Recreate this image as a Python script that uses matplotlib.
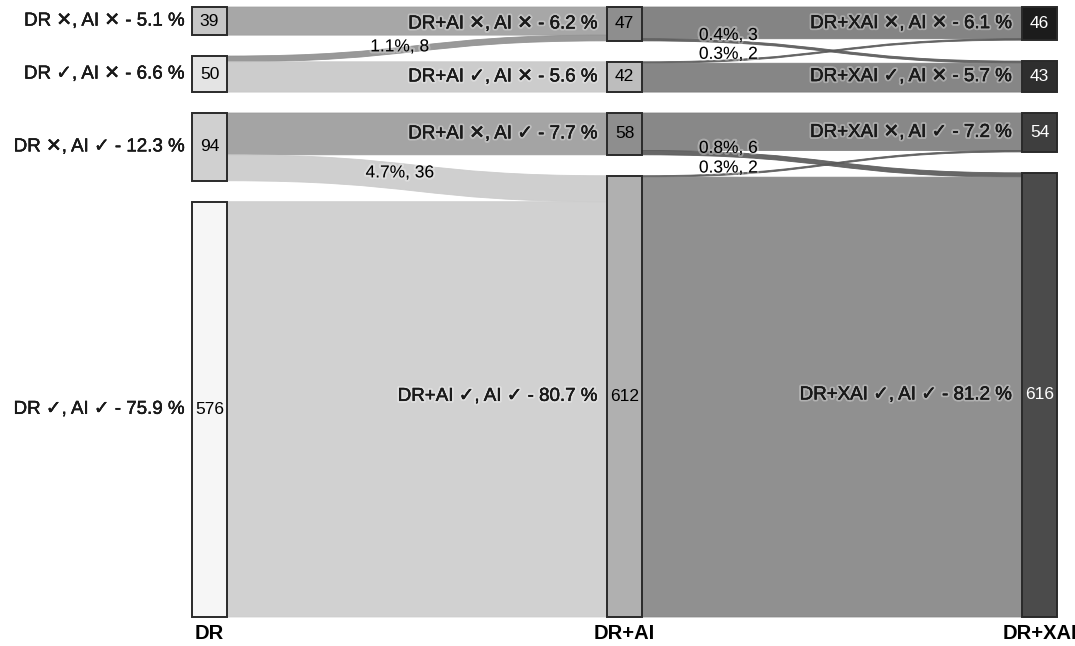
"""
Sankey: DR -> DR+AI -> DR+XAI 的判读结果流向图
"""
import matplotlib
matplotlib.use("Agg")
import matplotlib.pyplot as plt
import matplotlib.patheffects as pe
from matplotlib.path import Path
from matplotlib.patches import PathPatch, Rectangle

plt.rcParams["font.family"] = ["Liberation Sans", "DejaVu Sans"]

# ---------------------------------------------------------------------------
# 数据
# ---------------------------------------------------------------------------
stages = ["DR", "DR+AI", "DR+XAI"]
outcomes = ["✕, AI ✕", "✓, AI ✕", "✕, AI ✓", "✓, AI ✓"]

# 各列节点的百分比（按图中标注）
pct_dr = [5.1, 6.6, 12.3, 75.9]
pct_ai = [6.2, 5.6, 7.7, 80.7]
pct_xai = [6.1, 5.7, 7.2, 81.2]

# (源节点序号, 目标节点序号, 人数)
links_dr_to_ai = [(0, 0, 39), (1, 0, 8), (1, 1, 42), (2, 2, 58), (2, 3, 36), (3, 3, 576)]
links_ai_to_xai = [(0, 0, 44), (0, 1, 3), (1, 0, 2), (1, 1, 40),
                   (2, 2, 52), (2, 3, 6), (3, 2, 2), (3, 3, 610)]
# 跨类别流量的百分比标注（与上面顺序对应，None 表示不标注）
link_pct_dr_to_ai = [None, 1.1, None, None, 4.7, None]
link_pct_ai_to_xai = [None, 0.4, 0.3, None, None, 0.8, 0.3, None]

# ---------------------------------------------------------------------------
# 样式
# ---------------------------------------------------------------------------
node_colors = [["#c6c6c6", "#e4e4e4", "#d0d0d0", "#f6f6f6"],
               ["#8e8e8e", "#bdbdbd", "#8e8e8e", "#b0b0b0"],
               ["#1c1c1c", "#2e2e2e", "#3e3e3e", "#4b4b4b"]]
value_colors = ["black", "black", "white"]
link_colors = [["#a0a0a0", "#909090", "#c8c8c8", "#9c9c9c", "#cbcbcb", "#cdcdcd"],
               ["#7a7a7a", "#5a5a5a", "#5a5a5a", "#7c7c7c",
                "#7e7e7e", "#5a5a5a", "#5a5a5a", "#878787"]]
link_label_t = [0.44, 0.18]
link_label_dy = [2.5, 4.5]
label_gap = [5, 6.5, 7]

gap = 29          # 节点之间的间距（人数单位）
node_w = 35 / 415  # 节点宽度（列间距为 1）

halo = [pe.withStroke(linewidth=3, foreground="white", alpha=0.3)]
label_fx = [pe.withStroke(linewidth=3, foreground="white", alpha=0.3),
            pe.withStroke(linewidth=0.25, foreground="#1a1a1a")]


def node_values():
    """根据流量求每列节点的人数。"""
    vals = [[0] * 4 for _ in range(3)]
    for s, t, v in links_dr_to_ai:
        vals[0][s] += v
        vals[1][t] += v
    for s, t, v in links_ai_to_xai:
        vals[2][t] += v
    return vals


def ribbon(ax, x0, x1, s0, s1, t0, t1, color):
    """画一条贝塞尔曲线带。"""
    xm = (x0 + x1) / 2
    verts = [(x0, s0), (xm, s0), (xm, t0), (x1, t0),
             (x1, t1), (xm, t1), (xm, s1), (x0, s1), (x0, s0)]
    codes = [Path.MOVETO, Path.CURVE4, Path.CURVE4, Path.CURVE4,
             Path.LINETO, Path.CURVE4, Path.CURVE4, Path.CURVE4, Path.CLOSEPOLY]
    ax.add_patch(PathPatch(Path(verts, codes), facecolor=color, edgecolor=color,
                           lw=0.6, alpha=0.92, zorder=1))


def bezier_point(x0, x1, ys, yt, t):
    xm = (x0 + x1) / 2
    u = 1 - t
    x = u**3 * x0 + 3 * u**2 * t * xm + 3 * u * t**2 * xm + t**3 * x1
    y = u**3 * ys + 3 * u**2 * t * ys + 3 * u * t**2 * yt + t**3 * yt
    return x, y


def main():
    vals = node_values()
    pcts = [pct_dr, pct_ai, pct_xai]
    total = sum(vals[0])

    fig = plt.figure(figsize=(10.75, 6.46), dpi=100)
    ax = fig.add_axes([0, 0, 1, 1])
    span = total + 3 * gap
    k = 610 / span
    ax.set_xlim(-192 / 415, (1075 - 192) / 415)
    ax.set_ylim((646 - 7) / k, -7 / k)
    ax.axis("off")

    # 节点位置
    tops = []
    for c in range(3):
        y = 0
        col = []
        for v in vals[c]:
            col.append(y)
            y += v + gap
        tops.append(col)

    # 流量
    all_links = [links_dr_to_ai, links_ai_to_xai]
    all_pcts = [link_pct_dr_to_ai, link_pct_ai_to_xai]
    for p, links in enumerate(all_links):
        out_off = [0] * 4
        in_off = [0] * 4
        # 目标端按源节点顺序叠放
        in_pos = {}
        for s, t, v in sorted(links, key=lambda l: (l[1], l[0])):
            in_pos[(s, t)] = tops[p + 1][t] + in_off[t]
            in_off[t] += v
        x0 = p + node_w
        x1 = p + 1
        for i, (s, t, v) in enumerate(links):
            s0 = tops[p][s] + out_off[s]
            out_off[s] += v
            t0 = in_pos[(s, t)]
            ribbon(ax, x0, x1, s0, s0 + v, t0, t0 + v, link_colors[p][i])
            if all_pcts[p][i] is not None:
                lx, ly = bezier_point(x0, x1, s0 + v / 2, t0 + v / 2, link_label_t[p])
                ax.annotate(f"{all_pcts[p][i]:.1f}%, {v}", (lx, ly),
                            xytext=(0, link_label_dy[p]), textcoords="offset points",
                            ha="center", va="center", fontsize=12.5, color="black",
                            path_effects=halo, zorder=5)

    # 节点与标签
    for c in range(3):
        for i, v in enumerate(vals[c]):
            y0 = tops[c][i]
            ax.add_patch(Rectangle((c, y0), node_w, v, facecolor=node_colors[c][i],
                                   edgecolor="#2a2a2a", lw=1.4, zorder=3))
            ax.text(c + node_w / 2, y0 + v / 2, str(v), ha="center", va="center",
                    fontsize=12.5, color=value_colors[c], zorder=4)
            ax.annotate(f"{stages[c]} {outcomes[i]} - {pcts[c][i]:.1f} %",
                        (c, y0 + v / 2), xytext=(-label_gap[c], 0),
                        textcoords="offset points", ha="right", va="center",
                        fontsize=13.5, color="#1a1a1a", path_effects=label_fx,
                        zorder=5)
        ax.annotate(stages[c], (c + node_w / 2, span), xytext=(0, -5),
                    textcoords="offset points", ha="center", va="top",
                    fontsize=14.5, fontweight="bold", color="black")

    fig.savefig("out.png", dpi=100)
    plt.close(fig)


if __name__ == "__main__":
    main()
